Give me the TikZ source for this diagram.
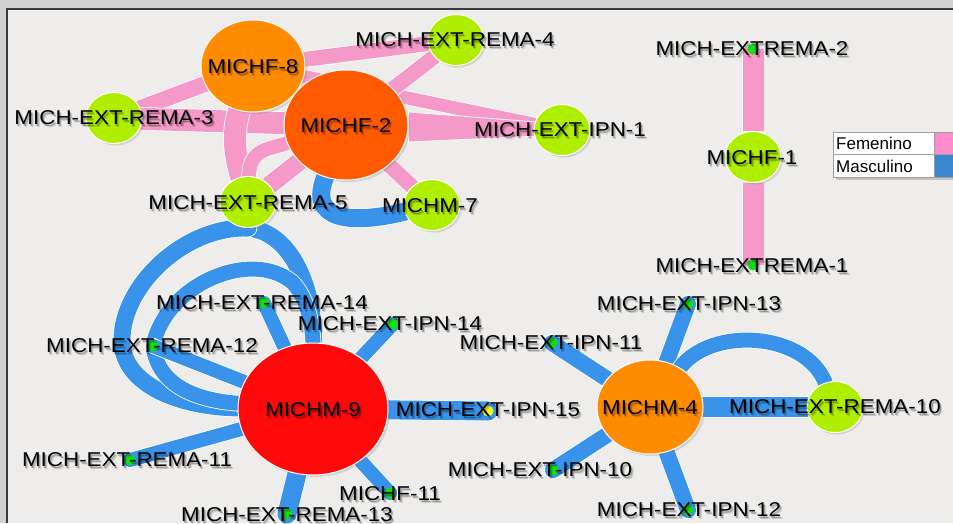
\documentclass[tikz,border=0pt]{standalone}
\usepackage{fontspec}
\usetikzlibrary{shapes.geometric,shadows}
\newfontfamily\lblfont[FakeStretch=1.12]{Liberation Sans}
\newfontfamily\legfont{Liberation Sans}
\definecolor{pinkedgec}{HTML}{F59AC8}
\definecolor{blueedgec}{HTML}{3A93EA}
\definecolor{limec}{HTML}{B0EE00}
\definecolor{orangec}{HTML}{FF8C00}
\definecolor{redorangec}{HTML}{FF5A00}
\definecolor{redc}{HTML}{FF0A0A}
\definecolor{dotc}{HTML}{10E010}
\definecolor{yellowdotc}{HTML}{FFFF20}
\definecolor{bgc}{HTML}{EEEDEC}
\definecolor{outerc}{HTML}{D2D2D2}
\definecolor{framec}{HTML}{3A3A3A}
\definecolor{legpink}{HTML}{FF8ACC}
\definecolor{legblue}{HTML}{3A86CF}

\pgfdeclarelayer{back}
\pgfdeclarelayer{edges}
\pgfdeclarelayer{labels}
\pgfsetlayers{back,edges,main,labels}

\tikzset{
  bignode/.style={ellipse, inner sep=0pt, draw=white, line width=1pt,
    drop shadow={opacity=0.25, shadow xshift=2pt, shadow yshift=-2pt}},
  limenode/.style={bignode, fill=limec, minimum width=56pt, minimum height=51pt},
  dotnode/.style={circle, fill=dotc, minimum size=11pt, inner sep=0pt},
  lbl/.style={font=\lblfont\fontsize{20}{24}\selectfont, text=black, inner sep=0pt},
  lblsh/.style={lbl, text=black, opacity=0.28},
  lblsoft/.style={lbl, text=black, opacity=0.15},
  legtext/.style={font=\legfont\fontsize{17}{20}\selectfont, text=black, inner sep=0pt, anchor=west},
  pinkedge/.style={draw=white, line width=0.8pt, double=pinkedgec, double distance=#1, line cap=round},
  pinkedge/.default=15pt,
  blueedge/.style={draw=white, line width=0.8pt, double=blueedgec, double distance=#1, line cap=round},
  blueedge/.default=15pt,
  wedge/.style={fill=pinkedgec, draw=white, line width=0.8pt, line join=round},
}

% node text with a soft drop shadow
\newcommand\vlabel[3]{%
  \node[lblsoft] (#1-s2) at ([shift={(2.4,2.8)}]#2) {#3};
  \node[lblsh] (#1-s1) at ([shift={(1.2,1.4)}]#2) {#3};
  \node[lbl] (#1) at (#2) {#3};}

\begin{document}
\begin{tikzpicture}[x=1pt,y=-1pt]
\useasboundingbox (0,0) rectangle (953,523);

\begin{pgfonlayer}{back}
  \fill[outerc] (0,0) rectangle (953,523);
  \fill[bgc] (7,9) rectangle (953,523);
  \draw[framec, line width=1.4pt] (7,523) -- (7,9) -- (953,9);
\end{pgfonlayer}

% ---- vertices ----
\node[bignode, fill=orangec, minimum width=104pt, minimum height=92pt] (f8) at (253,66) {};
\node[bignode, fill=redorangec, minimum width=124pt, minimum height=110pt] (f2) at (346,125) {};
\node[limenode] (r4) at (456,40) {};
\node[limenode] (r3) at (114,118) {};
\node[limenode] (ipn1) at (562,130) {};
\node[limenode] (r5) at (248,202) {};
\node[limenode] (m7) at (432,205) {};
\node[limenode] (f1) at (753,157) {};
\node[dotnode] (e2) at (753,49) {};
\node[dotnode] (e1) at (753,265) {};

\node[bignode, fill=redc, minimum width=150pt, minimum height=132pt] (m9) at (313,409) {};
\node[dotnode] (r14) at (264,303) {};
\node[dotnode] (ipn14) at (393,324) {};
\node[dotnode] (r12) at (153,346) {};
\node[dotnode, fill=yellowdotc] (ipn15) at (488,411) {};
\node[dotnode] (r11) at (130,460) {};
\node[dotnode] (r13) at (287,514) {};
\node[dotnode] (f11) at (390,493) {};

\node[bignode, fill=orangec, minimum width=106pt, minimum height=94pt] (m4) at (650,407) {};
\node[dotnode] (ipn13) at (688,304) {};
\node[dotnode] (ipn11) at (552,343) {};
\node[limenode] (r10) at (835,407) {};
\node[dotnode] (ipn10) at (553,470) {};
\node[dotnode] (ipn12) at (688,510) {};

% ---- edges ----
\begin{pgfonlayer}{edges}
  % Femenino
  \draw[pinkedge=15pt] (f8) -- (r4);
  \draw[pinkedge=13pt] (f8) -- (ipn1);
  \draw[pinkedge=16pt] (f8) -- (r3);
  \draw[pinkedge=22pt] (r3) -- (f2);
  \draw[pinkedge=22pt] (f8) .. controls (230,140) and (238,165) .. (r5);
  \draw[pinkedge=18pt] (f2) -- (r5);
  \draw[pinkedge=14pt] (f2) .. controls (265,150) and (250,150) .. (r5);
  \draw[pinkedge=15pt] (f2) -- (r4);
  % tapered band towards MICH-EXT-IPN-1
  \path[wedge] ([yshift=-17pt]f2.east) -- ([yshift=-5pt]ipn1.center)
        -- ([yshift=6pt]ipn1.center) -- ([yshift=13pt]f2.east) -- cycle;
  \draw[pinkedge=15pt] (f2) -- (m7);
  \draw[pinkedge=21pt, line cap=butt] (e2.center) -- (f1);
  \draw[pinkedge=21pt, line cap=butt] (f1) -- (e1.center);
  % Masculino
  \draw[blueedge=18pt] (f2) .. controls (308,220) and (350,225) .. (m7);
  \draw[blueedge=17pt] (r5.south) .. controls (290,232) and (314,285) .. (m9);
  \draw[blueedge=17pt] (r5.south) .. controls (185,226) and (122,285) .. (122,340)
        .. controls (122,385) and (180,407) .. (m9);
  \draw[blueedge=15pt] (r12.center) .. controls (165,285) and (250,248) .. (292,282)
        .. controls (306,296) and (312,320) .. (m9.north);
  \draw[blueedge=15pt] (r12.center) .. controls (158,385) and (195,400) .. (m9);
  \draw[blueedge=14pt] (r12.center) -- (m9);
  \draw[blueedge=14pt] (r14.center) -- (m9);
  \draw[blueedge=14pt] (ipn14.center) -- (m9);
  \draw[blueedge=19pt] (m9) -- (ipn15.center);
  \draw[blueedge=14pt] (r11.center) -- (m9);
  \draw[blueedge=19pt] (r13.center) -- (m9);
  \draw[blueedge=14pt] (f11.center) -- (m9);
  \draw[blueedge=16pt] (ipn13.center) -- (m4);
  \draw[blueedge=16pt] (ipn11.center) -- (m4);
  \draw[blueedge=16pt] (ipn10.center) -- (m4);
  \draw[blueedge=16pt] (ipn12.center) -- (m4);
  \draw[blueedge=20pt] (m4) -- (r10);
  \draw[blueedge=15pt] (m4) .. controls (712,326) and (805,332) .. (r10);
\end{pgfonlayer}

% ---- labels ----
\begin{pgfonlayer}{labels}
  \vlabel{f8-t}{253,67}{MICHF-8}
  \vlabel{f2-t}{346,126}{MICHF-2}
  \vlabel{r4-t}{455,40}{MICH-EXT-REMA-4}
  \vlabel{r3-t}{114,118}{MICH-EXT-REMA-3}
  \vlabel{ipn1-t}{560,130}{MICH-EXT-IPN-1}
  \vlabel{r5-t}{248,203}{MICH-EXT-REMA-5}
  \vlabel{m7-t}{430,206}{MICHM-7}
  \vlabel{e2-t}{752,49}{MICH-EXTREMA-2}
  \vlabel{f1-t}{752,158}{MICHF-1}
  \vlabel{e1-t}{752,266}{MICH-EXTREMA-1}
  \vlabel{m9-t}{313,410}{MICHM-9}
  \vlabel{r14-t}{262,303}{MICH-EXT-REMA-14}
  \vlabel{ipn14-t}{390,324}{MICH-EXT-IPN-14}
  \vlabel{r12-t}{152,346}{MICH-EXT-REMA-12}
  \vlabel{ipn15-t}{488,410}{MICH-EXT-IPN-15}
  \vlabel{r11-t}{127,460}{MICH-EXT-REMA-11}
  \vlabel{f11-t}{390,494}{MICHF-11}
  \vlabel{r13-t}{287,515}{MICH-EXT-REMA-13}
  \vlabel{m4-t}{650,408}{MICHM-4}
  \vlabel{ipn13-t}{689,304}{MICH-EXT-IPN-13}
  \vlabel{ipn11-t}{551,343}{MICH-EXT-IPN-11}
  \vlabel{r10-t}{835,407}{MICH-EXT-REMA-10}
  \vlabel{ipn10-t}{540,470}{MICH-EXT-IPN-10}
  \vlabel{ipn12-t}{689,510}{MICH-EXT-IPN-12}

  % legend
  \fill[black, opacity=0.18] (836,135) rectangle (956,180);
  \fill[white] (833,132) rectangle (934,177);
  \fill[legpink] (934,132) rectangle (953,154.5);
  \fill[legblue] (934,154.5) rectangle (953,177);
  \draw[gray!75, line width=0.8pt] (953,132) -- (833,132) -- (833,177) -- (953,177)
        (833,154.5) -- (953,154.5) (934,132) -- (934,177);
  \node[legtext] (legf) at (836,143.5) {Femenino};
  \node[legtext] (legm) at (836,166) {Masculino};
\end{pgfonlayer}
\end{tikzpicture}
\end{document}
